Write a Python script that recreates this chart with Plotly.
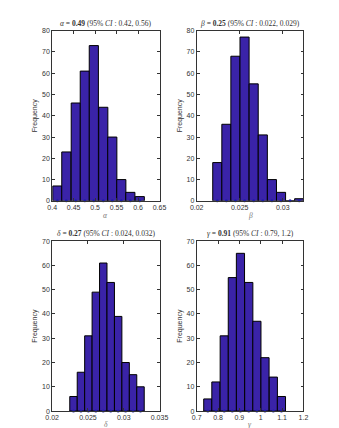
import plotly.graph_objects as go

# ---- data ----
alpha_centers = [0.412, 0.433, 0.455, 0.476, 0.497, 0.519, 0.540, 0.561, 0.582, 0.604]
alpha_counts = [7, 23, 46, 61, 73, 44, 30, 10, 4, 2]
alpha_width = 0.0213

beta_centers = [0.02239, 0.02345, 0.02450, 0.02556, 0.02662, 0.02768, 0.02874, 0.02980, 0.03085, 0.03191]
beta_counts = [18, 36, 68, 77, 55, 31, 10, 4, 0, 1]
beta_width = 0.001058

delta_centers = [0.02298, 0.02402, 0.02506, 0.02610, 0.02714, 0.02818, 0.02922, 0.03026, 0.03130, 0.03234]
delta_counts = [6, 16, 31, 49, 61, 53, 39, 20, 15, 10]
delta_width = 0.00104

gamma_centers = [0.752, 0.790, 0.829, 0.867, 0.905, 0.944, 0.982, 1.020, 1.059, 1.097]
gamma_counts = [5, 12, 31, 55, 65, 53, 37, 22, 14, 6]
gamma_width = 0.0383

titles = [
    "<i>α</i> = <b>0.49</b> (95% <i>CI</i> : 0.42, 0.56)",
    "<i>β</i> = <b>0.25</b> (95% <i>CI</i> : 0.022, 0.029)",
    "<i>δ</i> = <b>0.27</b> (95% <i>CI</i> : 0.024, 0.032)",
    "<i>γ</i> = <b>0.91</b> (95% <i>CI</i> : 0.79, 1.2)",
]
xlabels = ["α", "β", "δ", "γ"]

x_ranges = [[0.4, 0.65], [0.02, 0.0324], [0.02, 0.035], [0.7, 1.2]]
x_ticks = [
    [0.4, 0.45, 0.5, 0.55, 0.6, 0.65],
    [0.02, 0.025, 0.03],
    [0.02, 0.025, 0.03, 0.035],
    [0.7, 0.8, 0.9, 1.0, 1.1, 1.2],
]
x_ticktext = [
    ["0.4", "0.45", "0.5", "0.55", "0.6", "0.65"],
    ["0.02", "0.025", "0.03"],
    ["0.02", "0.025", "0.03", "0.035"],
    ["0.7", "0.8", "0.9", "1", "1.1", "1.2"],
]
y_max = [80, 80, 70, 70]

panels = [
    (alpha_centers, alpha_counts, alpha_width),
    (beta_centers, beta_counts, beta_width),
    (delta_centers, delta_counts, delta_width),
    (gamma_centers, gamma_counts, gamma_width),
]

W, H = 339, 428
# pixel frames (left, right, top, bottom)
frames = [
    (39, 151.7, 19, 192),
    (190.7, 302.7, 19, 192),
    (39, 151.7, 233, 405.7),
    (190.7, 302.7, 233, 405.7),
]
xlabel_y = [206.5, 206.5, 419.5, 419.5]

BAR = "#3a23a8"
fig = go.Figure()
layout = dict(
    width=W, height=H, margin=dict(l=0, r=0, t=0, b=0),
    paper_bgcolor="white", plot_bgcolor="white", showlegend=False,
    font=dict(family="Liberation Sans, Arial", size=7, color="#222"),
    annotations=[],
)

for i, ((cx, cnt, w), (l, r, t, b)) in enumerate(zip(panels, frames)):
    xa = "x" if i == 0 else f"x{i+1}"
    ya = "y" if i == 0 else f"y{i+1}"
    fig.add_trace(go.Bar(
        x=cx, y=cnt, width=[w] * len(cx), xaxis=xa, yaxis=ya,
        marker=dict(color=BAR, line=dict(color="black", width=1)),
        hoverinfo="skip",
    ))
    fig.add_trace(go.Scatter(
        x=cx, y=[0] * len(cx), xaxis=xa, yaxis=ya, mode="markers",
        marker=dict(color="#1c1ca8", size=3), cliponaxis=False, hoverinfo="skip",
    ))
    xkey = "xaxis" if i == 0 else f"xaxis{i+1}"
    ykey = "yaxis" if i == 0 else f"yaxis{i+1}"
    layout[xkey] = dict(
        domain=[l / W, r / W], anchor=ya, range=x_ranges[i],
        tickvals=x_ticks[i], ticktext=x_ticktext[i],
        ticks="inside", ticklen=3, tickwidth=0.7, tickcolor="#333",
        showline=True, linecolor="#333", linewidth=0.8, mirror="ticks",
        showgrid=False, zeroline=False, fixedrange=True,
        tickfont=dict(size=7, color="#333"),
    )
    layout[ykey] = dict(
        domain=[1 - b / H, 1 - t / H], anchor=xa, range=[0, y_max[i]],
        tickvals=list(range(0, y_max[i] + 1, 10)),
        ticks="inside", ticklen=3, tickwidth=0.7, tickcolor="#333",
        showline=True, linecolor="#333", linewidth=0.8, mirror="ticks",
        showgrid=False, zeroline=False, fixedrange=True,
        tickfont=dict(size=7, color="#333"),
        title=dict(text="Frequency", standoff=3,
                   font=dict(family="Liberation Sans, Arial", size=7, color="#333")),
    )
    layout["annotations"].append(dict(
        text=titles[i], xref="paper", yref="paper",
        x=(l + r) / 2 / W, y=1 - (t - 1) / H, xanchor="center", yanchor="bottom",
        showarrow=False,
        font=dict(family="Liberation Serif, DejaVu Serif", size=7.5, color="#333"),
    ))
    layout["annotations"].append(dict(
        text=f"<i>{xlabels[i]}</i>", xref="paper", yref="paper",
        x=(l + r) / 2 / W, y=1 - xlabel_y[i] / H, xanchor="center", yanchor="middle",
        showarrow=False,
        font=dict(family="Liberation Serif, DejaVu Serif", size=7.5, color="#777"),
    ))

fig.update_layout(**layout)
fig.write_html("out.html")
